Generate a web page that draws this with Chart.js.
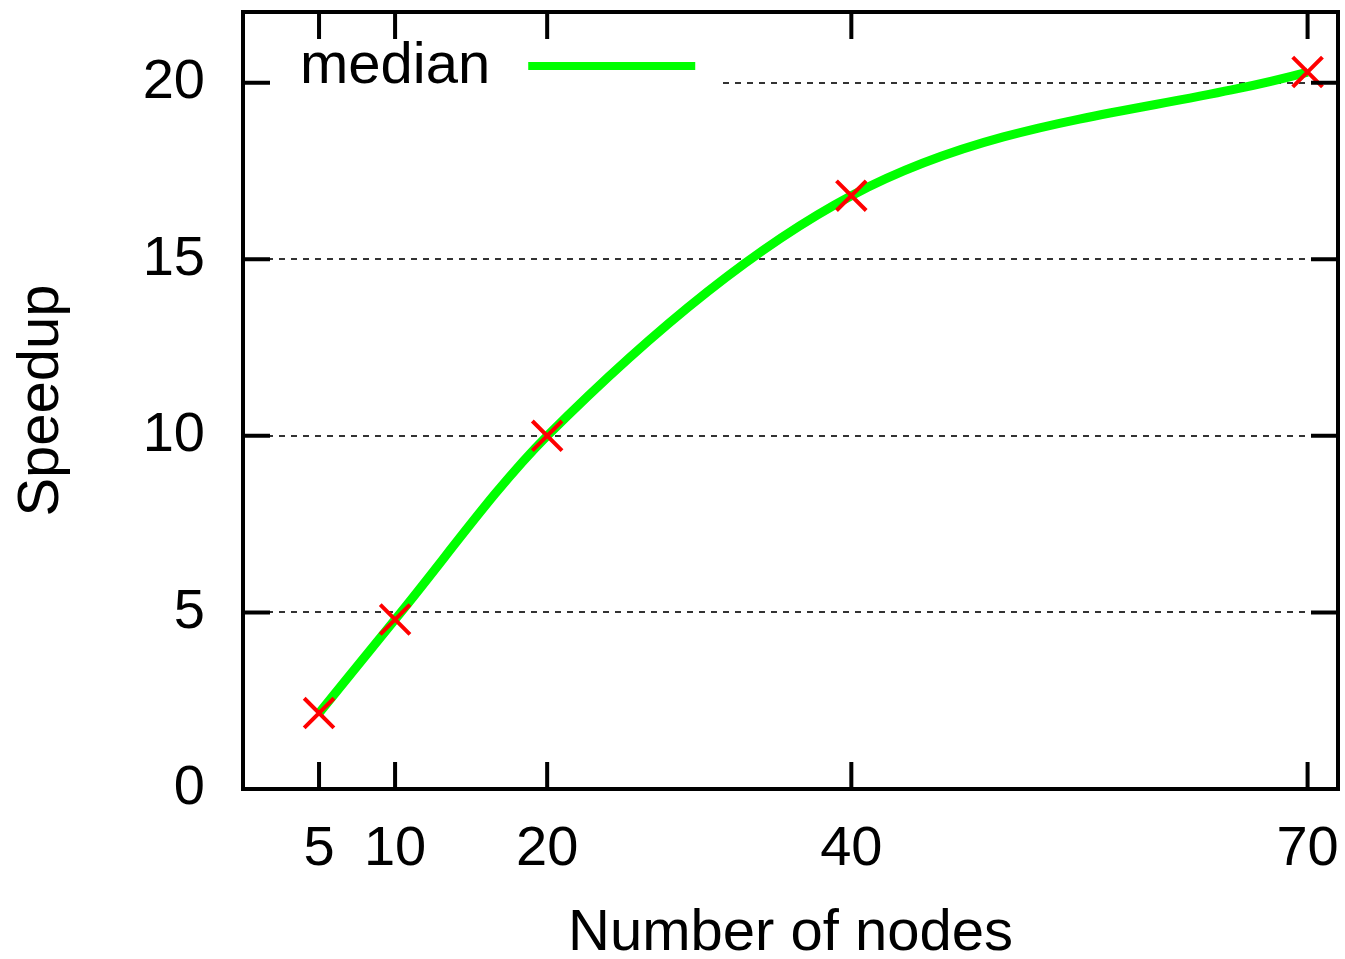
<!DOCTYPE html>
<html>
<head>
<meta charset="utf-8">
<script src="https://cdn.jsdelivr.net/npm/chart.js"></script>
<style>
html, body { margin: 0; padding: 0; background: #fff; }
</style>
</head>
<body>
<canvas id="speedupChart" width="1345" height="959"></canvas>
<script>
const nodes = [5, 10, 20, 40, 70];
const speedup = [2.15, 4.8, 10.0, 16.8, 20.3];
const xTicks = [5, 10, 20, 40, 70];
const yTicks = [0, 5, 10, 15, 20];
const seriesLabel = 'median';

const FONT = 'Liberation Sans, Arial, Helvetica, sans-serif';
const GREEN = '#00ff00';
const RED = '#ff0000';

const points = nodes.map((n, i) => ({ x: n, y: speedup[i] }));

// gnuplot-style frame: box, inward ticks, legend with sample after the text
const frame = {
    id: 'frame',
    beforeDatasetsDraw(chart) {
        const ctx = chart.ctx;
        const a = chart.chartArea;
        ctx.save();
        ctx.font = '58px ' + FONT;
        const textW = ctx.measureText(seriesLabel).width;
        const blankRight = a.left + 57 + textW + 38 + 167 + 23;
        ctx.fillStyle = '#fff';
        ctx.fillRect(a.left + 2, a.top + 2, blankRight - a.left, 100 - a.top);
        ctx.restore();
    },
    afterDraw(chart) {
        const ctx = chart.ctx;
        const a = chart.chartArea;
        const xs = chart.scales.x;
        const ys = chart.scales.y;
        const tick = 27;
        ctx.save();
        ctx.strokeStyle = '#000';
        ctx.lineWidth = 4;
        ctx.beginPath();
        xTicks.forEach(v => {
            const px = xs.getPixelForValue(v);
            ctx.moveTo(px, a.bottom); ctx.lineTo(px, a.bottom - tick);
            ctx.moveTo(px, a.top); ctx.lineTo(px, a.top + tick);
        });
        yTicks.forEach(v => {
            const py = ys.getPixelForValue(v);
            ctx.moveTo(a.left, py); ctx.lineTo(a.left + tick, py);
            ctx.moveTo(a.right, py); ctx.lineTo(a.right - tick, py);
        });
        ctx.stroke();
        ctx.lineJoin = 'miter';
        ctx.strokeRect(a.left, a.top, a.right - a.left, a.bottom - a.top);

        // legend
        ctx.font = '58px ' + FONT;
        ctx.fillStyle = '#000';
        ctx.textBaseline = 'alphabetic';
        ctx.textAlign = 'left';
        const tx = a.left + 57;
        ctx.fillText(seriesLabel, tx, 83);
        const lx = tx + ctx.measureText(seriesLabel).width + 38;
        ctx.strokeStyle = GREEN;
        ctx.lineWidth = 8;
        ctx.lineCap = 'butt';
        ctx.beginPath();
        ctx.moveTo(lx, 66);
        ctx.lineTo(lx + 167, 66);
        ctx.stroke();
        ctx.restore();
    }
};

new Chart(document.getElementById('speedupChart'), {
    type: 'line',
    data: {
        datasets: [
            {
                label: seriesLabel,
                data: points,
                borderColor: GREEN,
                borderWidth: 9,
                cubicInterpolationMode: 'monotone',
                pointRadius: 0,
                fill: false,
                order: 1
            },
            {
                label: 'points',
                data: points,
                showLine: false,
                pointStyle: 'crossRot',
                pointRadius: 21,
                pointBorderWidth: 4,
                pointBorderColor: RED,
                pointBackgroundColor: RED,
                order: 0
            }
        ]
    },
    plugins: [frame],
    options: {
        responsive: false,
        animation: false,
        layout: {
            autoPadding: false,
            padding: { top: 12, right: 7, left: 0, bottom: 0 }
        },
        plugins: {
            legend: { display: false },
            tooltip: { enabled: false }
        },
        scales: {
            x: {
                type: 'linear',
                min: 0,
                max: 72,
                afterBuildTicks: s => { s.ticks = xTicks.map(v => ({ value: v })); },
                afterFit: s => {
                    s.height = 170;
                    s.paddingLeft = 0;
                    s.paddingRight = 0;
                },
                grid: { display: false, drawTicks: false },
                border: { display: false },
                ticks: {
                    color: '#000',
                    padding: 27,
                    maxRotation: 0,
                    font: { family: FONT, size: 56 }
                },
                title: {
                    display: true,
                    text: 'Number of nodes',
                    color: '#000',
                    padding: 0,
                    font: { family: FONT, size: 58, lineHeight: 0.85 }
                }
            },
            y: {
                min: 0,
                max: 22,
                afterBuildTicks: s => { s.ticks = yTicks.map(v => ({ value: v })); },
                afterFit: s => {
                    s.width = 243;
                    s.paddingTop = 0;
                    s.paddingBottom = 0;
                },
                grid: {
                    drawTicks: false,
                    lineWidth: 2,
                    color: c => c.tick && c.tick.value === 0 ? 'rgba(0,0,0,0)' : '#333'
                },
                border: { display: false, dash: [6, 6] },
                ticks: {
                    color: '#000',
                    padding: 38,
                    font: { family: FONT, size: 56 }
                },
                title: {
                    display: true,
                    text: 'Speedup',
                    color: '#000',
                    padding: { top: 17, bottom: 0 },
                    font: { family: FONT, size: 58, lineHeight: 0.85 }
                }
            }
        }
    }
});
</script>
</body>
</html>
